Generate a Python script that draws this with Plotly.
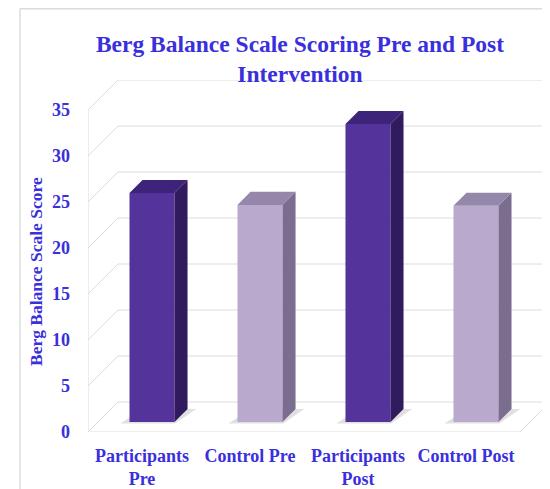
import plotly.graph_objects as go

# ---- data ----
categories = ["Participants<br>Pre", "Control Pre", "Participants<br>Post", "Control Post"]
scores = [24.9, 23.6, 32.4, 23.5]
front_colors = ["#54339b", "#b9aacd", "#54339b", "#b9aacd"]
top_colors = ["#3d2379", "#9587a9", "#3d2379", "#9587a9"]
side_colors = ["#2f1b5d", "#7b6d8e", "#2f1b5d", "#7b6d8e"]
y_ticks = [0, 5, 10, 15, 20, 25, 30, 35]

BLUE = "#3a2fdc"
FONT = "Liberation Serif"

# pseudo-3D geometry (in axis units)
DX = 0.278      # full depth, x-direction
DY = 3.26       # full depth, y-direction
F1, F2 = 1 / 3, 0.767   # bar front/back depth fractions
BW = 0.417      # bar width
YMAX = 35
GRID = "#dcdcdc"

# the page body has an 8px margin, so the figure is 8px smaller
W, H = 542, 481
L, T = 80, 72
PW, PH = 462, 352


def p(x, y, f):
    return x + f * DX, y + f * DY


def px(xp):
    return (xp - L) / PW


def py(yp):
    return (T + PH - yp) / PH


fig = go.Figure()

n = len(categories)
xs = list(range(n))

# front faces as real bars
fig.add_trace(go.Bar(
    x=[i + F1 * DX for i in xs], y=scores, base=[F1 * DY] * n,
    width=BW, marker=dict(color=front_colors, line=dict(width=0)),
    hoverinfo="skip", showlegend=False))

# top and side faces
for i, v in enumerate(scores):
    x0 = i - BW / 2
    x1 = i + BW / 2
    pts = [p(x1, 0, F1), p(x1, v, F1), p(x1, v, F2), p(x1, 0, F2)]
    fig.add_trace(go.Scatter(x=[q[0] for q in pts] + [pts[0][0]],
                             y=[q[1] for q in pts] + [pts[0][1]],
                             fill="toself", fillcolor=side_colors[i], mode="lines",
                             line=dict(width=0, color=side_colors[i]),
                             hoverinfo="skip", showlegend=False))
    pts = [p(x0, v, F1), p(x1, v, F1), p(x1, v, F2), p(x0, v, F2)]
    fig.add_trace(go.Scatter(x=[q[0] for q in pts] + [pts[0][0]],
                             y=[q[1] for q in pts] + [pts[0][1]],
                             fill="toself", fillcolor=top_colors[i], mode="lines",
                             line=dict(width=0, color=top_colors[i]),
                             hoverinfo="skip", showlegend=False))

shapes = []
# back wall / side wall gridlines
for t in y_ticks:
    a = p(-0.5, t, 0)
    b = p(-0.5, t, 1)
    c = p(n - 0.5, t, 1)
    shapes.append(dict(type="path", xref="x", yref="y", layer="below",
                       path=f"M{a[0]},{a[1]} L{b[0]},{b[1]} L{c[0]},{c[1]}",
                       line=dict(color=GRID, width=1)))
shapes.append(dict(type="line", xref="x", yref="y", layer="below",
                   x0=-0.5, y0=0, x1=-0.5, y1=YMAX, line=dict(color=GRID, width=1)))
a = p(-0.5, 0, 0)
b = p(n - 0.5, 0, 0)
c = p(n - 0.5, 0, 1)
shapes.append(dict(type="path", xref="x", yref="y", layer="below",
                   path=f"M{a[0]},{a[1]} L{b[0]},{b[1]} L{c[0]},{c[1]}",
                   line=dict(color=GRID, width=1)))
# soft shadows under bars
for i in xs:
    x0 = i - BW / 2
    x1 = i + BW / 2
    q = [p(x0 - 0.07, 0, F1 - 0.05), p(x1 + 0.02, 0, F1 - 0.05),
         p(x1 + 0.08, 0, F2), p(x0, 0, F2)]
    shapes.append(dict(type="path", xref="x", yref="y", layer="below",
                       path="M" + " L".join(f"{u[0]},{u[1]}" for u in q) + " Z",
                       fillcolor="rgba(0,0,0,0.12)", line=dict(width=0)))

# chart border (top and left)
shapes.append(dict(type="line", xref="paper", yref="paper",
                   x0=px(12), y0=py(0.8), x1=px(W), y1=py(0.8),
                   line=dict(color="#dcdcdc", width=1.5)))
shapes.append(dict(type="line", xref="paper", yref="paper",
                   x0=px(12), y0=py(0.8), x1=px(12), y1=py(H),
                   line=dict(color="#dcdcdc", width=1.5)))

fig.update_layout(
    width=W, height=H, autosize=False,
    margin=dict(l=L, r=W - L - PW, t=T, b=H - T - PH, pad=0),
    plot_bgcolor="white", paper_bgcolor="white",
    shapes=shapes,
    title=dict(text="<b>Berg Balance Scale Scoring Pre and Post<br>Intervention</b>",
               x=292 / W, xanchor="center", xref="container",
               y=1 - 43.5 / H, yanchor="middle", yref="container",
               font=dict(family=FONT, size=23.5, color=BLUE)),
    xaxis=dict(range=[-0.5, n - 0.5 + DX], tickvals=xs,
               ticktext=[f"<b>{c}</b>" for c in categories],
               showgrid=False, zeroline=False, showline=False, ticks="",
               ticklabelstandoff=11,
               tickfont=dict(family=FONT, size=18, color=BLUE)),
    yaxis=dict(range=[0, YMAX + DY], tickvals=y_ticks,
               ticktext=[f"<b>{t}</b>" for t in y_ticks],
               showgrid=False, zeroline=False, showline=False, ticks="",
               ticklabelstandoff=17,
               tickfont=dict(family=FONT, size=18, color=BLUE)),
    annotations=[dict(text="<b>Berg Balance Scale Score</b>", textangle=-90,
                      xref="paper", yref="paper", x=px(28), y=py(264),
                      xanchor="center", yanchor="middle", showarrow=False,
                      font=dict(family=FONT, size=17.5, color=BLUE))],
)

fig.write_html("out.html")
